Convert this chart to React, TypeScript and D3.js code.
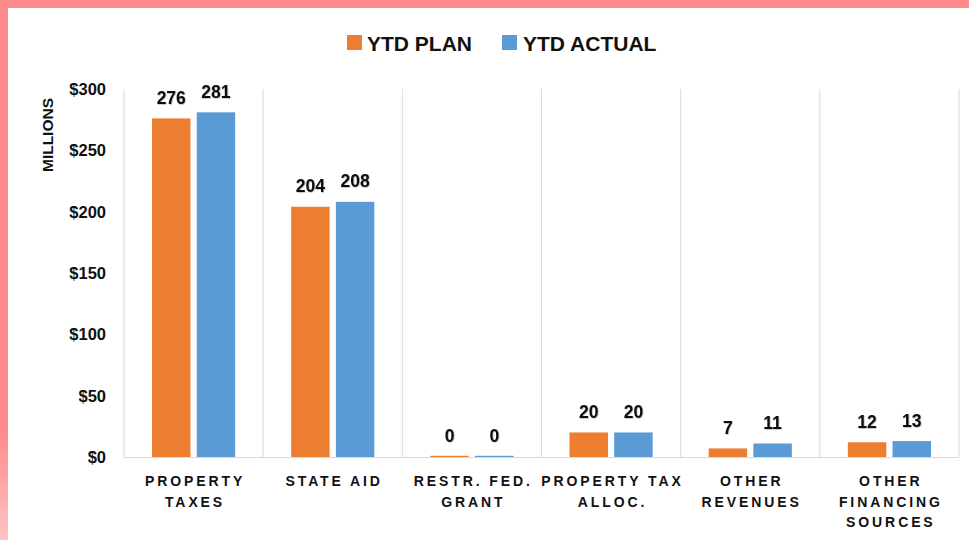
import React from "react";
import * as d3 from "d3";

const categories: string[][] = [
  ["PROPERTY", "TAXES"],
  ["STATE AID"],
  ["RESTR. FED.", "GRANT"],
  ["PROPERTY TAX", "ALLOC."],
  ["OTHER", "REVENUES"],
  ["OTHER", "FINANCING", "SOURCES"],
];
const seriesNames = ["YTD PLAN", "YTD ACTUAL"];
const planValues = [276, 204, 0.4, 20, 7, 12];
const actualValues = [281, 208, 0.4, 20, 11, 13];
const yTicks = [0, 50, 100, 150, 200, 250, 300];
const colors = ["#ED7D31", "#5B9BD5"];

const W = 969;
const H = 540;

export default function App() {
  const keys = categories.map((c) => c.join(" "));
  const x = d3.scaleBand<string>().domain(keys).range([124, 959]).padding(0);
  const inner = d3
    .scaleBand<string>()
    .domain(seriesNames)
    .range([28, x.bandwidth() - 28])
    .paddingInner(0.14);
  const y = d3.scaleLinear().domain([0, 300]).range([457, 89]);
  const series = [planValues, actualValues];
  const font = "'Liberation Sans', Arial, sans-serif";
  const ls = 2.9;

  const boundaries = [...keys.map((k) => x(k) as number), 959];

  return (
    <svg
      width={W}
      height={H}
      style={{ position: "absolute", left: 0, top: 0, display: "block" }}
      fontFamily={font}
    >
      <defs>
        <linearGradient id="leftBand" x1="0" y1="0" x2="0" y2="1">
          <stop offset="0.8" stopColor="#FF8A8C" />
          <stop offset="1" stopColor="#FFC4C4" />
        </linearGradient>
        <filter id="shadow" x="-20%" y="-20%" width="140%" height="140%">
          <feDropShadow dx="0.6" dy="0.6" stdDeviation="0.7" floodColor="#000" floodOpacity="0.35" />
        </filter>
      </defs>
      <rect x={0} y={0} width={W} height={H} fill="#ffffff" />
      <rect x={0} y={0} width={W} height={8} fill="#FF8A8C" />
      <rect x={0} y={0} width={8} height={H} fill="url(#leftBand)" />

      {/* legend */}
      <g fontWeight="bold" fontSize={21} fill="#111">
        <rect x={347} y={35} width={15} height={15} fill={colors[0]} />
        <text x={367} y={51}>{seriesNames[0]}</text>
        <rect x={502} y={35} width={15} height={15} fill={colors[1]} />
        <text x={523} y={51}>{seriesNames[1]}</text>
      </g>

      {/* axis title */}
      <text
        transform="translate(53,135) rotate(-90)"
        textAnchor="middle"
        fontWeight="bold"
        fontSize={15.5}
        fill="#111"
      >
        MILLIONS
      </text>

      {/* y tick labels */}
      <g fontWeight="bold" fontSize={16.5} fill="#111" textAnchor="end">
        {yTicks.map((t) => (
          <text key={t} x={106} y={y(t)} dy="0.36em">
            {"$" + t}
          </text>
        ))}
      </g>

      {/* gridlines */}
      <g stroke="#D9D9DF" strokeWidth={1}>
        {boundaries.map((b, i) => (
          <line key={i} x1={b} x2={b} y1={y(300)} y2={y(0)} />
        ))}
        <line x1={124} x2={959} y1={y(0) + 0.5} y2={y(0) + 0.5} />
      </g>

      {/* bars */}
      {keys.map((k, ci) => (
        <g key={k} transform={`translate(${x(k)},0)`}>
          {seriesNames.map((s, si) => {
            const v = series[si][ci];
            const top = y(v);
            const h = Math.max(1.2, y(0) - top);
            const bx = inner(s) as number;
            return (
              <g key={s}>
                <rect x={bx} y={y(0) - h} width={inner.bandwidth()} height={h} fill={colors[si]} />
                <text
                  x={bx + inner.bandwidth() / 2}
                  y={top - 14.5}
                  textAnchor="middle"
                  fontWeight="bold"
                  fontSize={17.5}
                  fill="#111"
                  filter="url(#shadow)"
                >
                  {Math.round(v)}
                </text>
              </g>
            );
          })}
        </g>
      ))}

      {/* category labels */}
      <g fontWeight="bold" fontSize={14} fill="#111" textAnchor="middle" letterSpacing={ls}>
        {categories.map((lines, ci) => (
          <text key={ci} x={(x(keys[ci]) as number) + x.bandwidth() / 2 + ls / 2} y={486}>
            {lines.map((l, li) => (
              <tspan key={li} x={(x(keys[ci]) as number) + x.bandwidth() / 2 + ls / 2} y={486 + li * 20.5}>
                {l}
              </tspan>
            ))}
          </text>
        ))}
      </g>
    </svg>
  );
}
